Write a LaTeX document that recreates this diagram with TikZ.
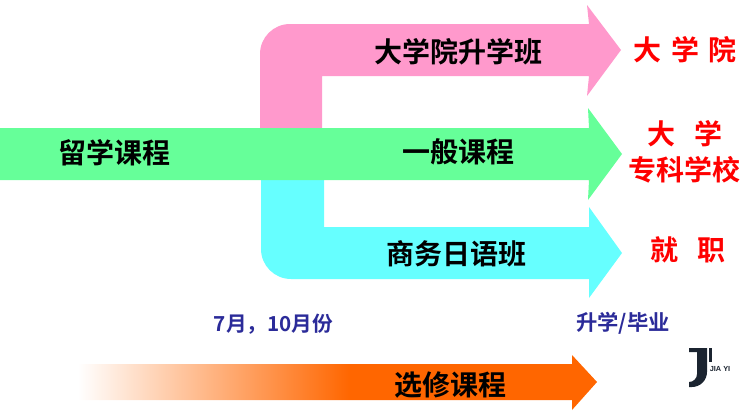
\documentclass[tikz,border=0pt]{standalone}
\usepackage{fontspec}
\setmainfont{Noto Sans CJK SC}[BoldFont={Noto Sans CJK SC Bold}]
\setsansfont{Liberation Sans}
\definecolor{pinkarrow}{HTML}{FF99CC}
\definecolor{greenarrow}{HTML}{66FF99}
\definecolor{cyanarrow}{HTML}{66FFFF}
\definecolor{orangearrow}{HTML}{FF6600}
\definecolor{bluetext}{HTML}{2B2B99}
\definecolor{logoink}{HTML}{1B2430}
\pgfdeclarehorizontalshading{fadeorange}{100bp}{color(0bp)=(white); color(25bp)=(white); color(51.2bp)=(orangearrow); color(100bp)=(orangearrow)}
\tikzset{
  course/.style={font=\fontsize{21}{24}\selectfont\bfseries, text=black, inner sep=0pt},
  goal/.style={font=\fontsize{21}{24}\selectfont\bfseries, text=red, inner sep=0pt},
  timing/.style={font=\fontsize{16}{18}\selectfont\bfseries, text=bluetext, inner sep=0pt},
}
\begin{document}
\begin{tikzpicture}[x=0.75pt,y=-0.75pt]
\useasboundingbox (0,0) rectangle (750,418);

% 粉色箭头
\fill[pinkarrow] (260,128) -- (260,54) arc[start angle=180, end angle=270, radius=30]
  -- (589,24) -- (587,5) -- (621,50) -- (587,96) -- (589,76) -- (322,76) -- (322,128) -- cycle;
% 青色箭头
\fill[cyanarrow] (261,180) -- (261,249) arc[start angle=180, end angle=90, radius=30]
  -- (589,279) -- (589,298) -- (622,253) -- (589,207) -- (589,227) -- (324,227) -- (324,180) -- cycle;
% 绿色箭头
\fill[greenarrow] (0,128) -- (589,128) -- (588,108) -- (622,154) -- (588,200) -- (589,180) -- (0,180) -- cycle;
% 橙色箭头
\shade[shading=fadeorange, shading angle=0] (78,364) -- (572,364) -- (572,355) -- (597,382) -- (572,410) -- (572,400) -- (78,400) -- cycle;

% 课程名称
\node[course] (liuxue) at (114,153) {留学课程};
\node[course] (daxueyuanban) at (458,52) {大学院升学班};
\node[course] (yiban) at (458,152) {一般课程};
\node[course] (shangwu) at (456,254) {商务日语班};
\node[course] (xuanxiu) at (450,385) {选修课程};

% 出路
\node[goal] (daxueyuan) at (685.5,50) {大\hspace{0.34em}学\hspace{0.34em}院};
\node[goal] (daxue) at (685,134) {大\hspace{0.65em}学};
\node[goal] (zhuanke) at (684.5,170) {专科学校};
\node[goal] (jiuzhi) at (688,250) {就\hspace{0.65em}职};

% 时间
\node[timing, font=\fontsize{15.5}{18}\selectfont\bfseries] (yuefen) at (273.5,324) {7月，10月份};
\node[timing] (shengxue) at (623,323) {升学/毕业};

% 标志
\fill[logoink] (689,348) -- (707,348) -- (707,372) arc[start angle=0, end angle=90, radius=15]
  -- (689,387) -- (689,382) arc[start angle=90, end angle=0, radius=8] -- (697,352) -- (689,352) -- cycle;
\fill[logoink] (709,348) rectangle (711.5,362);
\node[font=\sffamily\fontsize{5.5}{6}\selectfont\bfseries, text=logoink, inner sep=0pt] (jiayi) at (720,369) {JIA YI};
\end{tikzpicture}
\end{document}
